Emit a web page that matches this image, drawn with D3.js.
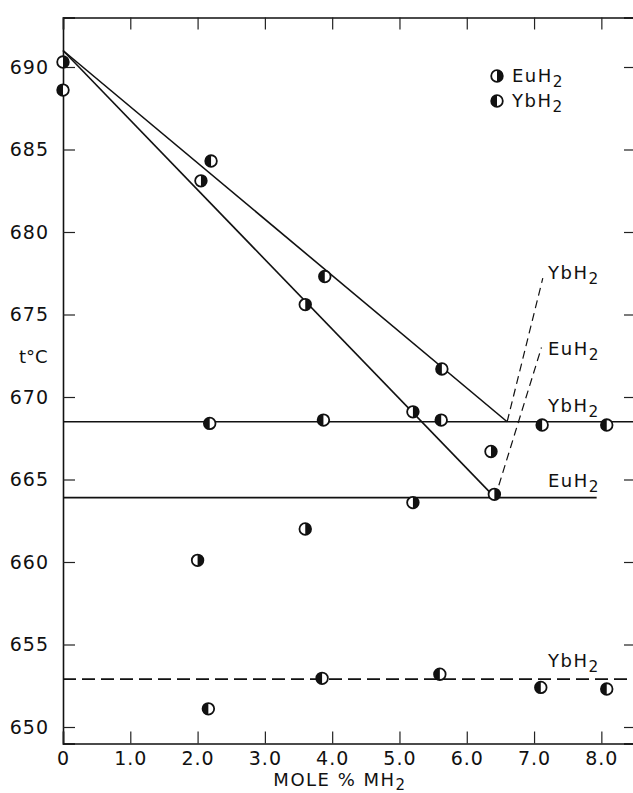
<!DOCTYPE html>
<html>
<head>
<meta charset="utf-8">
<script src="https://cdn.jsdelivr.net/npm/d3@7"></script>
<style>
  html, body { margin: 0; padding: 0; background: #fff; }
  svg { display: block; }
  text { font-family: "DejaVu Sans", "Liberation Sans", sans-serif; fill: #111; }
</style>
</head>
<body>
<svg id="chart" width="633" height="793"></svg>
<script>
// Freezing-point depression of the host melt by EuH2 and YbH2
const xTickValues = [0, 1, 2, 3, 4, 5, 6, 7, 8];
const xTickLabels = ["0", "1.0", "2.0", "3.0", "4.0", "5.0", "6.0", "7.0", "8.0"];
const yTickValues = [650, 655, 660, 665, 670, 675, 680, 685, 690];

// EuH2 measurements (mole %, °C)
const euMole = [0, 2.05, 3.60, 5.20, 6.36, 6.41, 2.00, 3.60, 5.20];
const euTemp = [690.3, 683.1, 675.6, 669.1, 666.7, 664.1, 660.1, 662.0, 663.6];

// YbH2 measurements (mole %, °C)
const ybMole = [0, 2.20, 3.89, 5.63, 2.18, 3.87, 5.62, 7.12, 8.08, 2.16, 3.85, 5.60, 7.10, 8.08];
const ybTemp = [688.6, 684.3, 677.3, 671.7, 668.4, 668.6, 668.6, 668.3, 668.3, 651.1, 652.95, 653.2, 652.4, 652.3];

// Fitted lines: [x1, t1, x2, t2]
const ybLiquidus = [0, 691.0, 6.60, 668.5];
const euLiquidus = [0, 691.0, 6.42, 663.9];
const ybSolidus = [0, 668.5, 8.5, 668.5];
const euSolidus = [0, 663.9, 7.93, 663.9];
const ybLower = [0, 652.9, 8.5, 652.9];
const ybExtension = [6.60, 668.5, 7.13, 677.2];
const euExtension = [6.42, 663.9, 7.11, 673.0];

const svg = d3.select("#chart");
const x = d3.scaleLinear().domain([0, 8.5]).range([63, 635]);
const y = d3.scaleLinear().domain([649, 693]).range([743.5, 17.5]);

const g = svg.append("g");

// Frame with inward ticks on all four sides
const axisL = d3.axisLeft(y).tickValues(yTickValues).tickSize(-12).tickPadding(14).tickFormat(d3.format("d"));
const axisB = d3.axisBottom(x).tickValues(xTickValues).tickSize(-12).tickPadding(8)
  .tickFormat((d, i) => xTickLabels[i]);
const axisT = d3.axisTop(x).tickValues(xTickValues).tickSize(-12).tickFormat("");
const axisR = d3.axisRight(y).tickValues(yTickValues).tickSize(-11).tickFormat("");

function styleAxis(sel) {
  sel.select(".domain").attr("stroke", "#111").attr("stroke-width", 1.6);
  sel.selectAll(".tick line").attr("stroke", "#222").attr("stroke-width", 1.2);
  sel.selectAll(".tick text").attr("font-size", 19).attr("fill", "#111")
    .attr("letter-spacing", 1)
    .style("font-family", '"DejaVu Sans", sans-serif');
}

g.append("g").attr("transform", `translate(${x(0)},0)`).call(axisL).call(styleAxis);
g.append("g").attr("transform", `translate(0,${y(649)})`).call(axisB).call(styleAxis);
g.append("g").attr("transform", `translate(0,${y(693)})`).call(axisT).call(styleAxis);
g.append("g").attr("transform", `translate(${x(8.5)},0)`).call(axisR).call(styleAxis);

// Lines
function seg(arr, dashed, width) {
  g.append("line")
    .attr("x1", x(arr[0])).attr("y1", y(arr[1]))
    .attr("x2", x(arr[2])).attr("y2", y(arr[3]))
    .attr("stroke", "#111")
    .attr("stroke-width", width || 1.6)
    .attr("stroke-dasharray", dashed || null);
}
seg(ybLiquidus);
seg(euLiquidus);
seg(ybSolidus);
seg(euSolidus);
seg(ybLower, "13,6");
seg(ybExtension, "8,5", 1.2);
seg(euExtension, "8,5", 1.2);

// Half-filled circle markers
const r = 5.8;
function marker(sel, side) {
  sel.append("circle").attr("r", r).attr("fill", "#fff").attr("stroke", "#111").attr("stroke-width", 1.8);
  const sweep = side === "right" ? 1 : 0;
  sel.append("path")
    .attr("d", `M0,${-r} A${r},${r} 0 0 ${sweep} 0,${r} Z`)
    .attr("fill", "#111");
}

const euData = euMole.map((m, i) => ({ m, t: euTemp[i] }));
const ybData = ybMole.map((m, i) => ({ m, t: ybTemp[i] }));

g.selectAll(".eu").data(euData).enter().append("g")
  .attr("class", "eu")
  .attr("transform", d => `translate(${x(d.m)},${y(d.t)})`)
  .each(function () { marker(d3.select(this), "right"); });

g.selectAll(".yb").data(ybData).enter().append("g")
  .attr("class", "yb")
  .attr("transform", d => `translate(${x(d.m)},${y(d.t)})`)
  .each(function () { marker(d3.select(this), "left"); });

// Chemical formula label with subscript 2
function formula(px, py, base, size) {
  const s = size || 18;
  const t = g.append("text").attr("x", px).attr("y", py).attr("font-size", s)
    .attr("letter-spacing", 1.5);
  t.append("tspan").text(base + "H");
  t.append("tspan").text("2").attr("dy", 5).attr("font-size", s * 0.85);
  return t;
}

// Legend
const legend = g.append("g");
[["Eu", "right", 76], ["Yb", "left", 101]].forEach(([name, side, ly]) => {
  marker(legend.append("g").attr("transform", `translate(497,${ly})`), side);
  formula(512, ly + 6, name, 18);
});

// Line annotations
formula(548, 279, "Yb");
formula(548, 355, "Eu");
formula(548, 412, "Yb");
formula(548, 487, "Eu");
formula(548, 667, "Yb");

// Axis titles
g.append("text").attr("x", 19).attr("y", 363).attr("font-size", 18).text("t°C");
const xt = g.append("text").attr("x", 340).attr("y", 786).attr("text-anchor", "middle")
  .attr("font-size", 18).attr("letter-spacing", 1.5);
xt.append("tspan").text("MOLE % MH");
xt.append("tspan").text("2").attr("dy", 4).attr("font-size", 15);
</script>
</body>
</html>
